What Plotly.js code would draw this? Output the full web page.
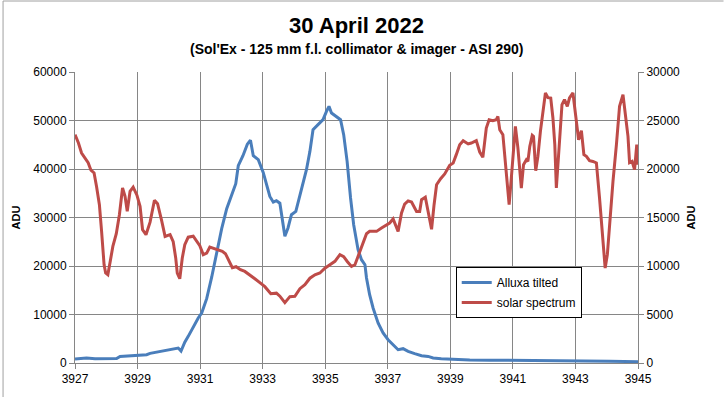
<!DOCTYPE html>
<html>
<head>
<meta charset="utf-8">
<script src="https://cdn.plot.ly/plotly-3.0.1.min.js"></script>
<style>html,body{margin:0;padding:0;background:#fff;}#chart{width:724px;height:397px;}</style>
</head>
<body>
<div id="chart"></div>
<script>
// Alluxa tilted (left axis, ADU)
const alluxaWl = [3927.00,3927.16,3927.37,3927.64,3927.96,3928.33,3928.44,3928.86,3929.08,3929.29,3929.40,3929.61,3929.82,3929.93,3930.10,3930.25,3930.30,3930.39,3930.51,3930.62,3930.78,3930.94,3931.05,3931.21,3931.37,3931.53,3931.69,3931.85,3932.01,3932.14,3932.22,3932.37,3932.51,3932.61,3932.70,3932.86,3933.02,3933.12,3933.23,3933.34,3933.44,3933.55,3933.62,3933.71,3933.81,3933.92,3934.06,3934.17,3934.28,3934.40,3934.51,3934.61,3934.77,3934.93,3935.04,3935.12,3935.20,3935.36,3935.49,3935.59,3935.70,3935.81,3935.91,3936.05,3936.16,3936.27,3936.32,3936.42,3936.53,3936.69,3936.85,3937.01,3937.17,3937.33,3937.49,3937.65,3937.86,3938.08,3938.29,3938.45,3938.71,3939.12,3939.62,3940.26,3941.22,3942.18,3943.13,3944.09,3945.00];
const alluxaAdu = [820,930,1030,890,890,930,1360,1510,1650,1710,1980,2270,2540,2640,2850,3090,3090,2470,4290,5490,7550,9280,10310,13260,17690,22680,27690,31820,34910,36970,40680,42750,45120,45940,42750,41920,39240,36770,34350,33160,33470,32950,29900,26150,27840,30580,31260,34020,37120,39860,43630,48110,49140,50170,51880,52910,51550,50850,50170,47080,41570,34020,28520,23360,21300,20270,17530,14080,11340,8250,6190,4800,3770,2740,2950,2390,1920,1510,1360,1030,890,740,620,580,540,540,470,370,270];

// solar spectrum (right axis, ADU)
const solarWl = [3927.00,3927.11,3927.21,3927.32,3927.42,3927.51,3927.61,3927.69,3927.78,3927.85,3927.93,3927.98,3928.05,3928.13,3928.21,3928.32,3928.42,3928.52,3928.60,3928.67,3928.76,3928.86,3928.98,3929.08,3929.16,3929.27,3929.40,3929.54,3929.64,3929.77,3929.88,3930.04,3930.14,3930.22,3930.27,3930.35,3930.43,3930.51,3930.62,3930.78,3930.89,3930.99,3931.10,3931.21,3931.31,3931.45,3931.58,3931.71,3931.81,3931.92,3932.03,3932.15,3932.29,3932.43,3932.59,3932.75,3932.91,3933.07,3933.26,3933.44,3933.55,3933.71,3933.87,3934.03,3934.19,3934.35,3934.51,3934.67,3934.83,3934.99,3935.15,3935.31,3935.47,3935.59,3935.71,3935.84,3935.95,3936.05,3936.16,3936.32,3936.42,3936.64,3936.80,3936.96,3937.06,3937.17,3937.33,3937.44,3937.54,3937.65,3937.76,3937.92,3938.02,3938.08,3938.20,3938.31,3938.40,3938.48,3938.56,3938.69,3938.82,3938.98,3939.09,3939.19,3939.30,3939.41,3939.57,3939.67,3939.83,3939.94,3940.04,3940.15,3940.24,3940.36,3940.47,3940.52,3940.58,3940.68,3940.79,3940.88,3940.95,3941.03,3941.08,3941.16,3941.27,3941.34,3941.43,3941.48,3941.54,3941.62,3941.66,3941.73,3941.80,3941.88,3941.96,3942.04,3942.12,3942.21,3942.28,3942.34,3942.39,3942.46,3942.57,3942.65,3942.74,3942.81,3942.92,3943.03,3943.10,3943.19,3943.27,3943.35,3943.45,3943.56,3943.67,3943.77,3943.88,3943.95,3944.02,3944.09,3944.20,3944.31,3944.41,3944.52,3944.57,3944.68,3944.73,3944.81,3944.89,3944.96,3945.00];
const solarAdu = [23540,22680,21650,21130,20650,19880,19590,18180,16320,13570,10130,9280,9100,10550,12020,13330,15290,18040,17180,15630,17690,18130,17300,16150,13740,13230,14520,16780,16420,14670,13050,13230,12510,10830,9260,8690,10830,12200,12970,13070,12510,12090,11170,11320,11940,11780,11680,11510,11270,10480,9830,9930,9620,9440,9100,8690,8280,7870,7150,7200,6890,6220,6840,6870,7660,8070,8740,9100,9280,9770,10130,10480,11170,10960,10440,9960,10130,10990,12040,13330,13570,13570,13920,14260,14430,14850,13570,15470,16390,16710,16600,15630,15630,16840,17090,15290,13790,16320,18380,19000,19490,20390,20620,21480,22510,22920,22580,22680,22920,21750,21200,24230,25080,24980,25080,25420,24050,23540,19750,16320,19070,23020,24390,22170,18040,20440,20960,20780,22330,23470,23360,19830,21300,23880,25940,27840,27350,27320,25260,22510,18040,21130,26630,27150,26460,27320,27840,24910,23020,23950,21480,21300,20860,20780,20620,17010,12540,9790,11170,14260,18720,22510,26460,27660,26290,23360,20650,20780,19930,22510,20440];

const seriesNames = ['Alluxa tilted', 'solar spectrum'];
const xTicks = [3927,3929,3931,3933,3935,3937,3939,3941,3943,3945];
const titleText = '30 April 2022';
const subtitleText = "(Sol'Ex - 125 mm f.l. collimator & imager - ASI 290)";

const gridCol = '#868686';
const baseFont = 'Liberation Sans, Arial, sans-serif';

const traces = [
  {x: alluxaWl, y: alluxaAdu, type: 'scatter', mode: 'lines', name: seriesNames[0],
   legendgroup: 'a', line: {color: '#4A7EBB', width: 3}, yaxis: 'y'},
  {x: solarWl, y: solarAdu, type: 'scatter', mode: 'lines', name: seriesNames[1],
   legendgroup: 'b', line: {color: '#BE4B48', width: 3}, yaxis: 'y2'}
];

const layout = {
  width: 724, height: 397,
  margin: {l: 75, r: 86, t: 72, b: 34, pad: 0},
  paper_bgcolor: '#fff', plot_bgcolor: '#fff',
  font: {family: baseFont, size: 12, color: '#000'},
  title: {text: '<b>' + titleText + '</b>', font: {family: 'Liberation Sans Narrow, Arial Narrow, sans-serif', size: 22, color: '#000'},
          x: 0.5, xref: 'paper', xanchor: 'center', y: 1 - 25/397, yref: 'container', yanchor: 'middle'},
  annotations: [{text: '<b>' + subtitleText + '</b>', xref: 'paper', yref: 'paper', x: 0.5, y: (363 - 49)/291,
                 xanchor: 'center', yanchor: 'middle', showarrow: false,
                 font: {family: 'Liberation Sans Narrow, Arial Narrow, sans-serif', size: 14, color: '#000'}}],
  xaxis: {range: [3927, 3945], tickvals: xTicks, ticktext: xTicks.map(String), showgrid: true, gridcolor: gridCol, gridwidth: 1,
          showline: true, linecolor: gridCol, linewidth: 1, ticks: 'outside', ticklen: 5, tickcolor: gridCol,
          zeroline: false, tickfont: {family: baseFont, size: 12, color: '#000'}, fixedrange: true},
  yaxis: {range: [0, 60000], dtick: 10000, tick0: 0, showgrid: true, gridcolor: gridCol, gridwidth: 1,
          showline: true, linecolor: gridCol, linewidth: 1, ticks: 'outside', ticklen: 5, tickcolor: gridCol,
          zeroline: false, tickformat: 'd', tickfont: {family: baseFont, size: 12, color: '#000'},
          title: {text: '<b>ADU</b>', font: {family: baseFont, size: 11, color: '#000'}, standoff: 10}},
  yaxis2: {range: [0, 30000], dtick: 5000, tick0: 0, overlaying: 'y', side: 'right', showgrid: false,
           showline: true, linecolor: gridCol, linewidth: 1, ticks: 'outside', ticklen: 5, tickcolor: gridCol,
           zeroline: false, tickformat: 'd', tickfont: {family: baseFont, size: 12, color: '#000'},
           title: {text: '<b>ADU</b>', font: {family: baseFont, size: 11, color: '#000'}, standoff: 8}},
  showlegend: true,
  legend: {x: (456 - 75)/563.4, y: (363 - 267)/291, xanchor: 'left', yanchor: 'top',
           bgcolor: '#fff', bordercolor: '#000', borderwidth: 1, traceorder: 'grouped', tracegroupgap: 1,
           font: {family: baseFont, size: 12, color: '#000'}},
  shapes: [
    {type: 'line', xref: 'paper', yref: 'paper', x0: (3 - 75)/563.4, x1: (3 - 75)/563.4, y0: (363 - 397)/291, y1: (363 - 1)/291,
     line: {color: '#a0a0a0', width: 1}},
    {type: 'line', xref: 'paper', yref: 'paper', x0: (3 - 75)/563.4, x1: (724 - 75)/563.4, y0: (363 - 1)/291, y1: (363 - 1)/291,
     line: {color: '#a0a0a0', width: 1}}
  ]
};

Plotly.newPlot('chart', traces, layout, {staticPlot: true, displayModeBar: false});
</script>
</body>
</html>
